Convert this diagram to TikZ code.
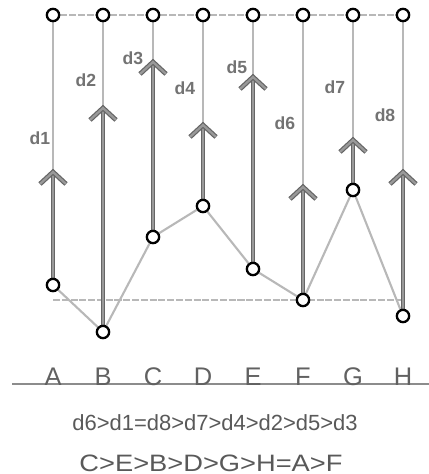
\documentclass[tikz,border=0pt]{standalone}
\usepackage{fontspec}
\setmainfont{Liberation Sans}
\usetikzlibrary{calc,backgrounds}

\tikzset{
  pin/.style={circle, draw=black, line width=1.3pt, fill=white, inner sep=0pt, minimum size=7pt},
  guide/.style={line width=1.2pt, color=black!28},
  track/.style={line width=1.2pt, color=black!28, dash pattern=on 4pt off 1pt},
  shaft/.style={draw=black!60, line width=0.7pt, double=black!40, double distance=1.3pt},
  tag/.style={font=\bfseries\fontsize{10}{11}\selectfont, text=black!55},
  letter/.style={font=\fontsize{14.5}{15}\selectfont, text=black!62, anchor=base, inner sep=0pt}
}

\begin{document}
\begin{tikzpicture}[x=0.02cm, y=-0.02cm]
		%%%%% START %%%%%
		
		\useasboundingbox (0, 0) rectangle (429, 474);
		
		% top and bottom pins
		\foreach \i/\x/\yb/\yt/\lx/\ly/\name in {
		  1/53/285/172/40/138/A, 2/103/332/108/86/80/B,
		  3/153/237/62/133/58/C, 4/203/206/125/185/88/D,
		  5/253/269/77/237/67/E, 6/303/300/187/285/123/F,
		  7/353/190/140/335/87/G, 8/403/316/172/385/115/H}{
		  \node[pin] (t\i) at (\x, 15) {};
		  \node[pin] (b\i) at (\x, \yb) {};
		  \coordinate (tip\i) at (\x, \yt);
		  \node[tag] (d\i) at (\lx, \ly) {d\i};
		  \node[letter] (l\name) at (\x, 385) {\name};
		}
		
		\coordinate (h1) at (53, 300);
		\coordinate (h2) at (403, 300);
		\coordinate (base1) at (12, 384);
		\coordinate (base2) at (429, 384);
		
		\begin{scope}[on background layer]
		  \draw[track] (t1) -- (t2) -- (t3) -- (t4) -- (t5) -- (t6) -- (t7) -- (t8);
		  \draw[track] (h1) -- (h2);
		  \draw[guide] (b1) -- (b2) -- (b3) -- (b4) -- (b5) -- (b6) -- (b7) -- (b8);
		  \foreach \i in {1,...,8}{
		    \draw[guide] (t\i) -- (tip\i);
		    \draw[shaft] (b\i) -- (tip\i);
		    \draw[shaft, line join=miter] ($(tip\i)+(-13,12)$) -- (tip\i) -- ($(tip\i)+(13,12)$);
		  }
		  \draw[line width=0.6pt, color=black!45] (base1) -- (base2);
		\end{scope}
		
		\node[font=\fontsize{12.5}{13}\selectfont, text=black!65] (order1) at (215, 423) {d6>d1=d8>d7>d4>d2>d5>d3};
		\node[font=\fontsize{13.5}{14}\selectfont, text=black!65, inner sep=0pt, transform shape, xscale=1.15] (order2) at (211, 463) {C>E>B>D>G>H=A>F};
		
		%%%%% END %%%%%
\end{tikzpicture}
\end{document}
